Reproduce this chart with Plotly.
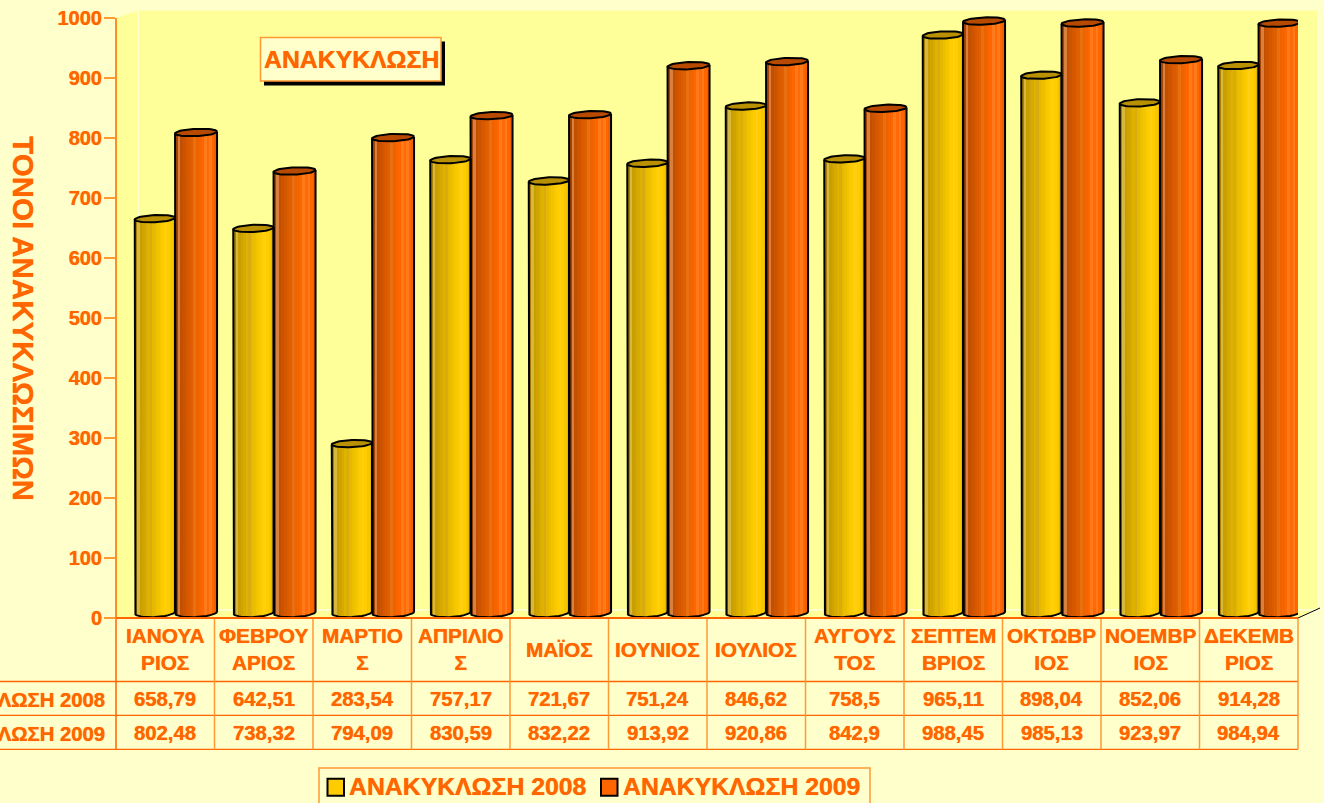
import math
import plotly.graph_objects as go

months = ['ΙΑΝΟΥΑ<br>ΡΙΟΣ', 'ΦΕΒΡΟΥ<br>ΑΡΙΟΣ', 'ΜΑΡΤΙΟ<br>Σ', 'ΑΠΡΙΛΙΟ<br>Σ', 'ΜΑΪΟΣ', 'ΙΟΥΝΙΟΣ',
          'ΙΟΥΛΙΟΣ', 'ΑΥΓΟΥΣ<br>ΤΟΣ', 'ΣΕΠΤΕΜ<br>ΒΡΙΟΣ', 'ΟΚΤΩΒΡ<br>ΙΟΣ', 'ΝΟΕΜΒΡ<br>ΙΟΣ', 'ΔΕΚΕΜΒ<br>ΡΙΟΣ']
values_2008 = [658.79, 642.51, 283.54, 757.17, 721.67, 751.24, 846.62, 758.5, 965.11, 898.04, 852.06, 914.28]
values_2009 = [802.48, 738.32, 794.09, 830.59, 832.22, 913.92, 920.86, 842.9, 988.45, 985.13, 923.97, 984.94]
name_2008 = 'ΑΝΑΚΥΚΛΩΣΗ 2008'
name_2009 = 'ΑΝΑΚΥΚΛΩΣΗ 2009'
chart_title = 'ΑΝΑΚΥΚΛΩΣΗ'
y_title = 'ΤΟΝΟΙ ΑΝΑΚΥΚΛΩΣΙΜΩΝ'
y_ticks = list(range(0, 1001, 100))

gold_strips = ['#A87F00', '#D8B83C', '#C99E00', '#D0A400', '#D6AA00', '#E0B200', '#D8AC10', '#E6B800',
               '#ECBE00', '#F2C400', '#F8C800', '#FFCC00', '#FFCF10', '#FFCC00', '#F6C600', '#E4B600']
orange_strips = ['#A84400', '#D9803F', '#C25000', '#CC5400', '#D45800', '#DC5A00', '#E06000', '#E87010',
                 '#EE6200', '#F56400', '#FF6600', '#FF7A1A', '#FF6A08', '#FF7A1A', '#FF6600', '#EE6000']

W, H = 1324, 803
L, R, T, B = 116, 1298, 7.5, 618
AXIS_TOP = 17.5
AXIS_SCALE = (B - AXIS_TOP) / 1000
ORANGE = '#FF6600'
LIGHT = '#FF9933'
BG = '#FFFFCC'
WALL = '#FFFF99'
BAND = (R - L) / 12
PX_UNIT = 0.6
BASE_PX = 613.6
ELL_A = 3.6 / PX_UNIT
ELL_B = 4.6 / PX_UNIT
TILT = 0.9 / PX_UNIT
FOOT = 1.1 / PX_UNIT


def px(xv):
    return (xv - L) / (R - L)


def py(yv):
    return 1 - (yv - T) / (B - T)


FONT = 'Liberation Sans, Arial, sans-serif'
HEAVY = '0 0 0.7px #FF6600'
TXT = dict(color=ORANGE, family=FONT, weight='bold', shadow=HEAVY)
fig = go.Figure()


def add_series(values, name, strips, cap, left_px, right_px):
    x_idx = list(range(len(values)))
    left = left_px / BAND
    right = right_px / BAND
    half = (right - left) / 2
    mid = (right + left) / 2
    n = len(strips)
    for k, col in enumerate(strips):
        s0 = -1 + 2 * k / n
        s1 = -1 + 2 * (k + 1) / n
        sm = (s0 + s1) / 2
        base = FOOT - ELL_B * math.sqrt(max(0, 1 - sm * sm)) + TILT * sm
        fig.add_trace(go.Bar(x=x_idx, y=[v - base for v in values], base=[base] * len(values), yaxis='y2',
                             name=name, width=(s1 - s0) * half + 0.002, offset=mid + s0 * half, cliponaxis=False,
                             marker=dict(color=col, line=dict(width=0)), showlegend=False, hoverinfo='skip'))
    thetas = [math.pi * i / 24 for i in range(49)]
    cx, cy, ox, oy = [], [], [], []
    for i, v in enumerate(values):
        for th in thetas:
            c = math.cos(th)
            cx.append(i + mid + half * c)
            cy.append(v + ELL_A * math.sin(th) + TILT * c)
        cx.append(None)
        cy.append(None)
        ox.append(i + left)
        oy.append(v - TILT)
        for j in range(25):
            th = math.pi + math.pi * j / 24
            c = math.cos(th)
            ox.append(i + mid + half * c)
            oy.append(FOOT + ELL_B * math.sin(th) + TILT * c)
        ox.append(i + right)
        oy.append(v + TILT)
        ox.append(None)
        oy.append(None)
    fig.add_trace(go.Scatter(x=ox, y=oy, yaxis='y2', mode='lines', line=dict(color='black', width=2),
                             cliponaxis=False, showlegend=False, hoverinfo='skip'))
    fig.add_trace(go.Scatter(x=cx, y=cy, yaxis='y2', mode='lines', fill='toself', fillcolor=cap,
                             line=dict(color='black', width=2), cliponaxis=False, showlegend=False, hoverinfo='skip'))


add_series(values_2008, name_2008, gold_strips, '#B89000', -30.5, 9.8)
add_series(values_2009, name_2009, orange_strips, '#B84A00', 9.8, 51.8)

# invisible trace that keeps the primary value axis alive
fig.add_trace(go.Scatter(x=[0], y=[0], mode='markers', marker=dict(opacity=0), showlegend=False, hoverinfo='skip'))

shapes = []
# 3D walls
shapes.append(dict(type='path', xref='paper', yref='paper', layer='below', line=dict(width=0), fillcolor=WALL,
                   path=f'M{px(L)},{py(B)} L{px(L)},{py(AXIS_TOP)} L{px(138)},{py(10)} L{px(1317)},{py(10)} '
                        f'L{px(1317)},{py(608)} L{px(R)},{py(B)} Z'))
shapes.append(dict(type='line', xref='paper', yref='paper', layer='below', line=dict(color='#FFFFE0', width=1.5),
                   x0=px(138), x1=px(138), y0=py(10), y1=py(610)))
shapes.append(dict(type='line', xref='paper', yref='paper', layer='below', line=dict(color='#FFFFE0', width=1.5),
                   x0=px(138), x1=px(1317), y0=py(610), y1=py(610)))
shapes.append(dict(type='line', xref='paper', yref='paper', layer='below', line=dict(color='black', width=1),
                   x0=px(R), x1=px(1320), y0=py(B), y1=py(608)))
# value axis line, stopping at the 1000 tick
shapes.append(dict(type='line', xref='paper', yref='paper', line=dict(color=ORANGE, width=1.5),
                   x0=px(L), x1=px(L), y0=py(AXIS_TOP), y1=py(B)))
# data table rules
for yv in (681.5, 715.5, 749.5):
    shapes.append(dict(type='line', xref='paper', yref='paper', line=dict(color=ORANGE, width=1.4),
                       x0=px(0), x1=px(R), y0=py(yv), y1=py(yv)))
for i in range(13):
    xv = L + BAND * i
    shapes.append(dict(type='line', xref='paper', yref='paper',
                       line=dict(color=ORANGE if i == 0 else LIGHT, width=1.5),
                       x0=px(xv), x1=px(xv), y0=py(B), y1=py(749.5)))
shapes.append(dict(type='line', xref='paper', yref='paper', line=dict(color=ORANGE, width=2),
                   x0=px(L), x1=px(R), y0=py(B), y1=py(B)))
# title box
shapes.append(dict(type='rect', xref='paper', yref='paper', fillcolor='black', line=dict(width=0),
                   x0=px(264), x1=px(445), y0=py(41), y1=py(85)))
shapes.append(dict(type='rect', xref='paper', yref='paper', fillcolor=BG, line=dict(color=LIGHT, width=1.5),
                   x0=px(260.5), x1=px(441), y0=py(37), y1=py(80.5)))
# legend box
shapes.append(dict(type='rect', xref='paper', yref='paper', fillcolor=BG, line=dict(color=LIGHT, width=1.5),
                   x0=px(319), x1=px(870), y0=py(768), y1=py(806)))
shapes.append(dict(type='rect', xref='paper', yref='paper', fillcolor=gold_strips[11], line=dict(color='black', width=2),
                   x0=px(327.5), x1=px(344), y0=py(779), y1=py(796)))
shapes.append(dict(type='rect', xref='paper', yref='paper', fillcolor=orange_strips[10], line=dict(color='black', width=2),
                   x0=px(601), x1=px(617.5), y0=py(779), y1=py(796)))

ann = []


def label(text, x, y, size, xref='paper', xanchor='center', angle=0):
    ann.append(dict(text=text, xref=xref, yref='paper', x=x, y=y, xanchor=xanchor, yanchor='middle',
                    showarrow=False, textangle=angle, font=dict(size=size, **TXT)))


label(chart_title, px(351.5), py(59.5), 24.8)
label(y_title, px(23.5), py(318.5), 29.5, angle=90)
for i, m in enumerate(months):
    label(m, i, py(649.2), 20.8, xref='x')
    label(str(values_2008[i]).replace('.', ','), i, py(699.5), 20.3, xref='x')
    label(str(values_2009[i]).replace('.', ','), i, py(733.5), 20.3, xref='x')
label(name_2008, px(107), py(700.5), 20.3, xanchor='right')
label(name_2009, px(107), py(734.5), 20.3, xanchor='right')
label(name_2008, px(347), py(787), 24.8, xanchor='left')
label(name_2009, px(621), py(787), 24.8, xanchor='left')

fig.update_layout(
    width=W, height=H, autosize=False,
    paper_bgcolor=BG, plot_bgcolor='rgba(0,0,0,0)',
    margin=dict(l=L, r=W - R, t=T, b=H - B, pad=0, autoexpand=False),
    barmode='overlay', bargap=0,
    showlegend=False,
    xaxis=dict(range=[-0.5, 11.5], showticklabels=False, ticks='', showgrid=False, zeroline=False, showline=False,
               fixedrange=True),
    yaxis=dict(range=[0, (B - T) / AXIS_SCALE], tickvals=y_ticks, ticks='outside', ticklen=11, tickwidth=1.5,
               tickcolor=LIGHT, showline=False, showgrid=False, zeroline=False,
               ticklabelstandoff=-2,
               tickfont=dict(size=20, **TXT), fixedrange=True),
    yaxis2=dict(overlaying='y', visible=False, showgrid=False, zeroline=False, fixedrange=True,
                range=[(BASE_PX - B) / PX_UNIT, (BASE_PX - T) / PX_UNIT]),
    shapes=shapes, annotations=ann, hovermode=False,
)
fig.write_html('out.html', post_script="document.body.style.margin='0';document.body.style.overflow='hidden';",
               config=dict(displayModeBar=False))
